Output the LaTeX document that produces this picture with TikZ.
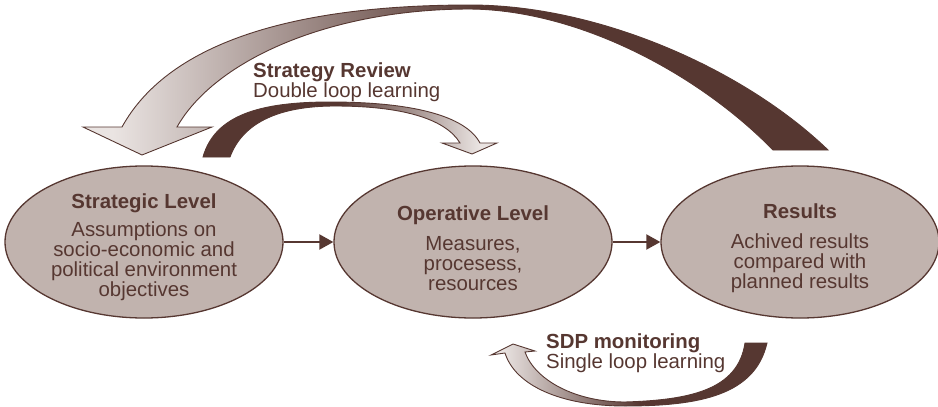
\documentclass[tikz,border=0pt]{standalone}
\usepackage{fontspec}
\setmainfont{Liberation Sans}
\usepackage{xcolor}
\usetikzlibrary{shapes.geometric,arrows.meta,positioning}
\definecolor{arrowdark}{RGB}{86, 55, 49}
\definecolor{arrowlight}{RGB}{234, 228, 226}
\definecolor{levelfill}{RGB}{193, 179, 174}
\definecolor{textcolor}{RGB}{86, 55, 49}
\pgfdeclarehorizontalshading{lighttodark}{100bp}{color(0bp)=(arrowlight); color(27bp)=(arrowlight); color(52bp)=(arrowdark); color(100bp)=(arrowdark)}
\pgfdeclarehorizontalshading{darktolight}{100bp}{color(0bp)=(arrowdark); color(48bp)=(arrowdark); color(72bp)=(arrowlight); color(100bp)=(arrowlight)}

\begin{document}
\begin{tikzpicture}[x=1pt, y=-1pt,
  level/.style={ellipse, draw=arrowdark, line width=1.3pt, fill=levelfill,
    minimum width=278pt, minimum height=152pt, inner sep=0pt},
  leveltext/.style={text=textcolor, align=center, inner sep=0pt,
    font=\fontsize{20.4}{20}\selectfont},
  flow/.style={-{Triangle[length=14pt,width=15pt]}, arrowdark, line width=2pt},
  loopshape/.style={draw=arrowdark, line width=0.9pt, line join=miter},
  looptext/.style={text=textcolor, align=left, inner sep=0pt, anchor=west,
    font=\fontsize{20.4}{19}\selectfont}]

  % Page size
  \useasboundingbox (0,0) rectangle (938,407);

  % The three levels
  \node[level] (strat) at (144,242) {};
  \node[level] (oper) at (473,242) {};
  \node[level] (res) at (800,242) {};

  \node[leveltext] (strattext) at (144,247) {\textbf{Strategic Level}\\[8pt]Assumptions on\\socio-economic and\\political environment\\objectives};
  \node[leveltext] (opertext) at (473,248) {\textbf{Operative Level}\\[10pt]Measures,\\procesess,\\resources};
  \node[leveltext] (restext) at (800,248) {\textbf{Results}\\[10pt]Achived results\\compared with\\planned results};

  % Flow between the levels
  \draw[flow] (strat) -- (oper);
  \draw[flow] (oper) -- (res);

  % Strategy review, from results back to the strategic level
  \shade[loopshape, shading=lighttodark]
    (773,150) -- (828,150) .. controls (745,70) and (600,5) .. (470,5)
    .. controls (300,5) and (170,40) .. (122,127)
    -- (83,127) -- (142,155) -- (212,127) -- (177,127)
    .. controls (215,60) and (330,9) .. (470,9)
    .. controls (580,10) and (700,75) .. (773,150) -- cycle;

  % Double loop, from the strategic level to the operative level
  \shade[loopshape, shading=darktolight]
    (230,157) -- (203,157) .. controls (215,115) and (260,102) .. (330,102)
    .. controls (410,102) and (465,115) .. (480,143)
    -- (497,143) -- (472,154) -- (442,143) -- (460,143)
    .. controls (445,118) and (400,106) .. (335,106)
    .. controls (280,106) and (243,122) .. (230,157) -- cycle;

  % Single loop, from results back to the operative level
  \shade[loopshape, shading=lighttodark]
    (745,343) -- (767,343) .. controls (755,395) and (700,406) .. (625,406)
    .. controls (560,406) and (515,385) .. (505,353)
    -- (491,355) -- (513,344) -- (535,351) -- (525,352)
    .. controls (535,380) and (575,402) .. (625,402)
    .. controls (690,400) and (738,390) .. (745,343) -- cycle;

  % Loop labels
  \node[looptext] (review) at (253,82) {\textbf{Strategy Review}\\Double loop learning};
  \node[looptext] (monitor) at (546,353) {\textbf{SDP monitoring}\\Single loop learning};

\end{tikzpicture}
\end{document}
